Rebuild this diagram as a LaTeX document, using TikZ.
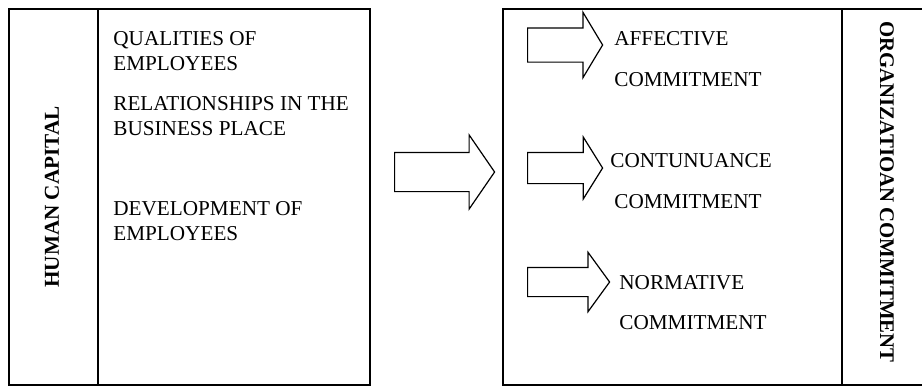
\documentclass[tikz,border=0pt]{standalone}
\usepackage{fontspec}
\setmainfont{Liberation Serif}
\usetikzlibrary{shapes.arrows}

\tikzset{
  frame/.style={line width=0.75pt},
  blockarrow/.style={draw, line width=0.6pt, single arrow, inner xsep=0pt,
    anchor=tail, minimum height=37.5pt},
  item/.style={anchor=base west, inner sep=0pt, align=left, font=\fontsize{10.6}{12.5}\selectfont},
  title/.style={inner sep=0pt, font=\fontsize{10.6}{12}\selectfont\bfseries}
}

\begin{document}
\begin{tikzpicture}[x=0.5pt, y=-0.5pt]
  \useasboundingbox (0,0) rectangle (922,386);

  %% Left box: human capital
  \draw[frame] (9,9) rectangle (370,385);
  \draw[frame] (98,9) -- (98,385);
  \node[title, rotate=90] (hc) at (52,197) {HUMAN CAPITAL};

  \node[item] (qual) at (113,70) {QUALITIES OF\\EMPLOYEES};
  \node[item] (rel)  at (113,135) {RELATIONSHIPS IN THE\\BUSINESS PLACE};
  \node[item] (dev)  at (113,240) {DEVELOPMENT OF\\EMPLOYEES};

  %% Big arrow between the boxes
  \node[blockarrow, minimum height=50pt, inner ysep=9.5pt,
    single arrow head extend=8.75pt, single arrow tip angle=111] (main) at (394,172) {};

  %% Right box: organizational commitment (right edge runs off the page)
  \draw[frame] (503,9) rectangle (924,385);
  \draw[frame] (842,9) -- (842,385);
  \node[title, rotate=-90, font=\fontsize{10.4}{12}\selectfont\bfseries] (oc) at (887,192) {ORGANIZATIOAN COMMITMENT};

  %% Small arrows and their labels
  \node[blockarrow, inner ysep=8.25pt, single arrow head extend=7.75pt,
    single arrow tip angle=118] (aff) at (527,45) {};
  \node[item] (aff1) at (614,45) {AFFECTIVE};
  \node[item] (aff2) at (614,86) {COMMITMENT};

  \node[blockarrow, inner ysep=7.5pt, single arrow head extend=7.75pt,
    single arrow tip angle=116] (con) at (527,168) {};
  \node[item] (con1) at (610,167) {CONTUNUANCE};
  \node[item] (con2) at (614,208) {COMMITMENT};

  \node[blockarrow, minimum height=41pt, inner ysep=7pt, single arrow head extend=7.5pt,
    single arrow tip angle=108] (nor) at (527,282) {};
  \node[item] (nor1) at (619,289) {NORMATIVE};
  \node[item] (nor2) at (619,329) {COMMITMENT};
\end{tikzpicture}
\end{document}
